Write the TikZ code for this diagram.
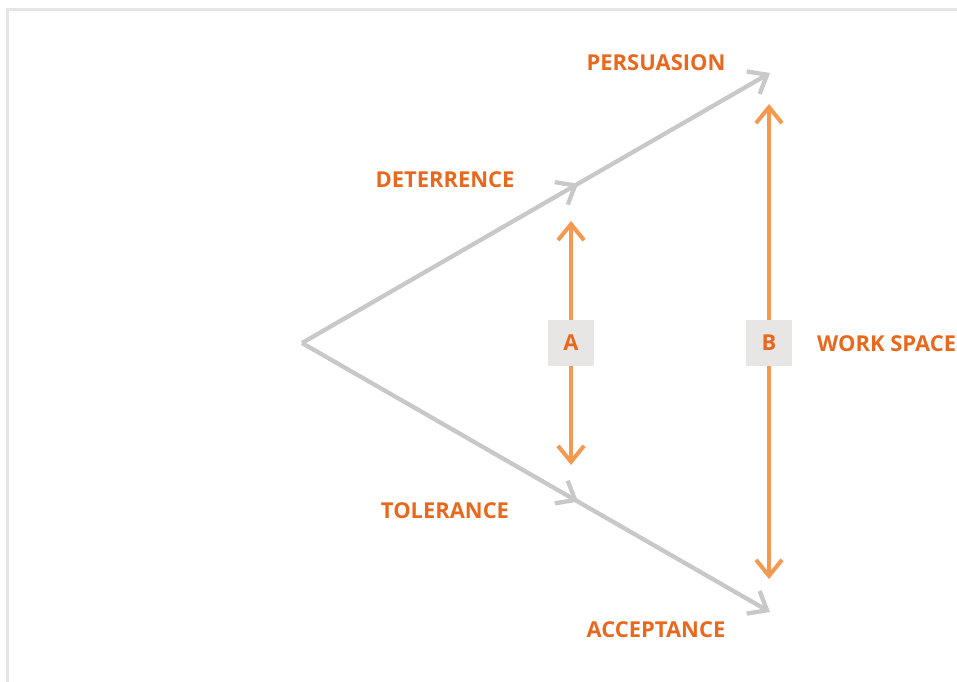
\documentclass[tikz,border=0pt]{standalone}
\usepackage{fontspec}
\setmainfont{Open Sans}
\usetikzlibrary{arrows.meta,decorations.markings}
\definecolor{railgray}{HTML}{C8C8C8}
\definecolor{framegray}{HTML}{E6E6E6}
\definecolor{spanorange}{HTML}{F4994F}
\definecolor{labelorange}{HTML}{E8681E}
\definecolor{tagfill}{HTML}{E8E6E4}
\begin{document}
\begin{tikzpicture}[x=1bp,y=-1bp,
  rail/.style={draw=railgray,line width=4.3bp,-{Straight Barb[length=16bp,width=26bp]},
    postaction={decorate},
    decoration={markings,mark=at position 0.59 with {\arrow[railgray]{Straight Barb[length=16bp,width=26bp]}}}},
  span/.style={draw=spanorange,line width=4bp,{Straight Barb[length=16bp,width=26bp]}-{Straight Barb[length=16bp,width=26bp]}},
  stage/.style={text=labelorange,font=\bfseries\fontsize{22}{26}\selectfont,inner sep=0pt},
  tag/.style={fill=tagfill,minimum size=46bp,inner sep=0pt,text=labelorange,font=\bfseries\fontsize{22}{26}\selectfont}]
  \useasboundingbox (0,0) rectangle (957,682);
  % outer frame
  \draw[framegray,line width=3bp] (7.5,690) -- (7.5,9.5) -- (970,9.5);
  % points of the two rails
  \coordinate (apex) at (302,343);
  \coordinate (top) at (770,73);
  \coordinate (bottom) at (770,612);
  \draw[rail,line join=round] (apex) -- (top);
  \draw[rail,line join=round] (apex) -- (bottom);
  % span arrows
  \coordinate (a1) at (571,221);
  \coordinate (a2) at (571,465);
  \coordinate (b1) at (769,104);
  \coordinate (b2) at (769,579);
  \draw[span] (a1) -- (a2);
  \draw[span] (b1) -- (b2);
  \node[tag] (tagA) at (571,343) {A};
  \node[tag] (tagB) at (769,343) {B};
  % stage labels
  \node[stage] (pers) at (656,63) {PERSUASION};
  \node[stage] (det) at (445,180) {DETERRENCE};
  \node[stage] (tol) at (445,511) {TOLERANCE};
  \node[stage] (acc) at (656,630) {ACCEPTANCE};
  \node[stage,anchor=west] (ws) at (817,344) {WORK SPACE};
\end{tikzpicture}
\end{document}
